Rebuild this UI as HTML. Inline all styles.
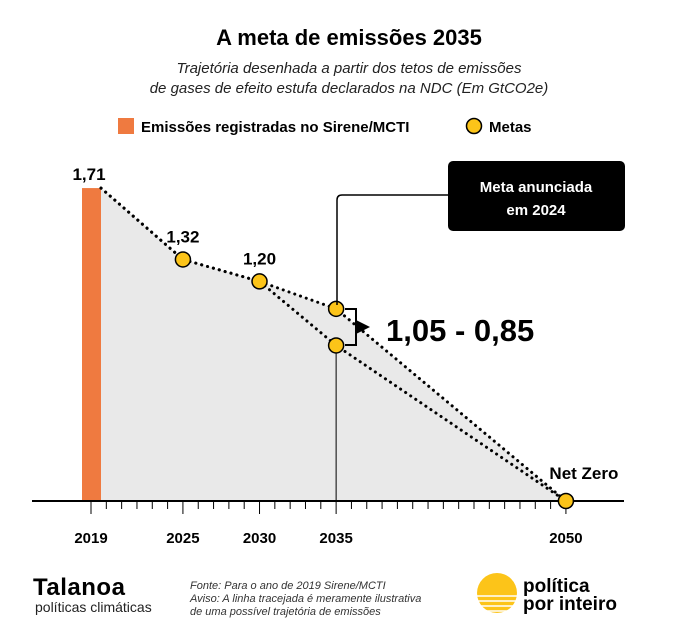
<!DOCTYPE html>
<html><head><meta charset="utf-8"><style>
body{margin:0;background:#fff;font-family:"Liberation Sans",sans-serif}
svg text{font-family:"Liberation Sans",sans-serif}
</style></head><body>
<svg width="698" height="634" viewBox="0 0 698 634">
<text x="349" y="45" text-anchor="middle" font-size="22" font-weight="bold">A meta de emissões 2035</text>
<text x="349" y="73" text-anchor="middle" font-size="15" font-style="italic" fill="#222">Trajetória desenhada a partir dos tetos de emissões</text>
<text x="349" y="93" text-anchor="middle" font-size="15" font-style="italic" fill="#222">de gases de efeito estufa declarados na NDC (Em GtCO2e)</text>
<g>
<rect x="118" y="118" width="16" height="16" fill="#ef7a40"/>
<text x="141" y="132" font-size="15" font-weight="bold">Emissões registradas no Sirene/MCTI</text>
<circle cx="474" cy="126" r="7.5" fill="#fcc419" stroke="#000" stroke-width="1.5"/>
<text x="489" y="132" font-size="15" font-weight="bold">Metas</text>
</g>
<g id="plot"></g>
<g>
<path d="M337,305 V200 Q337,195 342,195 H448" fill="none" stroke="#000" stroke-width="1.5"/>
<rect x="448" y="161" width="177" height="70" rx="5" fill="#000"/>
<text x="536" y="192" text-anchor="middle" fill="#fff" font-size="15" font-weight="bold">Meta anunciada</text>
<text x="536" y="215" text-anchor="middle" fill="#fff" font-size="15" font-weight="bold">em 2024</text>
</g>
<path d="M345,309 H356 V345 H345" fill="none" stroke="#000" stroke-width="2"/>
<path d="M356,320 L370,327 L356,334 Z" fill="#000"/>
<text x="386" y="341" font-size="31" font-weight="bold">1,05 - 0,85</text>
<g>
<text x="33" y="595" font-size="24" font-weight="bold" letter-spacing="0.5">Talanoa</text>
<text x="35" y="612" font-size="14" fill="#222">políticas climáticas</text>
<text x="190" y="589" font-size="11" font-style="italic" fill="#333">Fonte: Para o ano de 2019 Sirene/MCTI</text>
<text x="190" y="602" font-size="11" font-style="italic" fill="#333">Aviso: A linha tracejada é meramente ilustrativa</text>
<text x="190" y="615" font-size="11" font-style="italic" fill="#333">de uma possível trajetória de emissões</text>
<circle cx="497" cy="593" r="20" fill="#fcc419"/>
<g stroke="#fff" stroke-width="1.5"><line x1="475" y1="596" x2="520" y2="596"/><line x1="475" y1="601" x2="520" y2="601"/><line x1="475" y1="606" x2="520" y2="606"/><line x1="475" y1="611" x2="520" y2="611"/></g>
<text x="523" y="592" font-size="19" font-weight="bold">política</text>
<text x="523" y="610" font-size="19" font-weight="bold">por inteiro</text>
</g>
</svg>
<script>
const years=[2019,2025,2030,2035,2050];
const upperPath=[1.71,1.32,1.20,1.05,0];
const lowerPath=[1.71,1.32,1.20,0.85,0];
const barYear=[2019];const barValue=[1.71];
const pointYears=[2025,2030,2035,2035,2050];
const pointValues=[1.32,1.20,1.05,0.85,0];
const pointLabels=["1,32","1,20","","","Net Zero"];
const tickYears=[2019,2025,2030,2035,2050];
const xs=y=>91+(y-2019)*15.32;
const ys=v=>501-v*183;
const NS="http://www.w3.org/2000/svg";
const g=document.getElementById('plot');
function mk(t,a){const e=document.createElementNS(NS,t);for(const k in a)e.setAttribute(k,a[k]);g.appendChild(e);return e;}
let pts=[[xs(2019)+10,ys(upperPath[0])]];
for(let i=1;i<years.length;i++)pts.push([xs(years[i]),ys(upperPath[i])]);
pts.push([xs(2019)+10,ys(0)]);
let area=mk('polygon',{points:pts.map(p=>p.join(',')).join(' '),fill:'#e9e9e9'});


let vl=mk('line',{x1:xs(2035),x2:xs(2035),y1:ys(0.85),y2:ys(0),stroke:'#000','stroke-width':1});


barYear.forEach((y,i)=>{let r=mk('rect',{x:xs(y)-9,y:ys(barValue[i]),width:19,height:ys(0)-ys(barValue[i]),fill:'#ef7a40'});


let t=mk('text',{x:xs(y)-2,y:ys(barValue[i])-8,'text-anchor':'middle','font-size':17,'font-weight':'bold'});t.textContent=barValue[i].toFixed(2).replace('.',',');

});
let ax=mk('line',{x1:32,x2:624,y1:ys(0),y2:ys(0),stroke:'#000','stroke-width':2});


for(let y=2019;y<=2050;y++){const major=tickYears.includes(y);
let t=mk('line',{x1:xs(y),x2:xs(y),y1:ys(0),y2:ys(0)+(major?13:8),stroke:'#000','stroke-width':1});

}
tickYears.forEach(y=>{let t=mk('text',{x:xs(y),y:ys(0)+42,'text-anchor':'middle','font-size':15,'font-weight':'bold'});t.textContent=y;

});
function line(vals,name){let d='M'+(xs(2019)+10)+','+ys(vals[0]);for(let i=1;i<years.length;i++)d+=' L'+xs(years[i])+','+ys(vals[i]);
let p=mk('path',{d:d,fill:'none',stroke:'#000','stroke-width':3,'stroke-dasharray':'0.1 6','stroke-linecap':'round'});

}
line(upperPath,'upper-trajectory-line');line(lowerPath,'lower-trajectory-line');
pointYears.forEach((y,i)=>{let c=mk('circle',{cx:xs(y),cy:ys(pointValues[i]),r:7.5,fill:'#fcc419',stroke:'#000','stroke-width':1.5});


if(pointLabels[i]){let net=pointLabels[i]==='Net Zero';
let t=mk('text',{x:net?xs(y)+18:xs(y),y:ys(pointValues[i])-(net?22:17),'text-anchor':'middle','font-size':17,'font-weight':'bold'});t.textContent=pointLabels[i];

}});
</script>
</body></html>
